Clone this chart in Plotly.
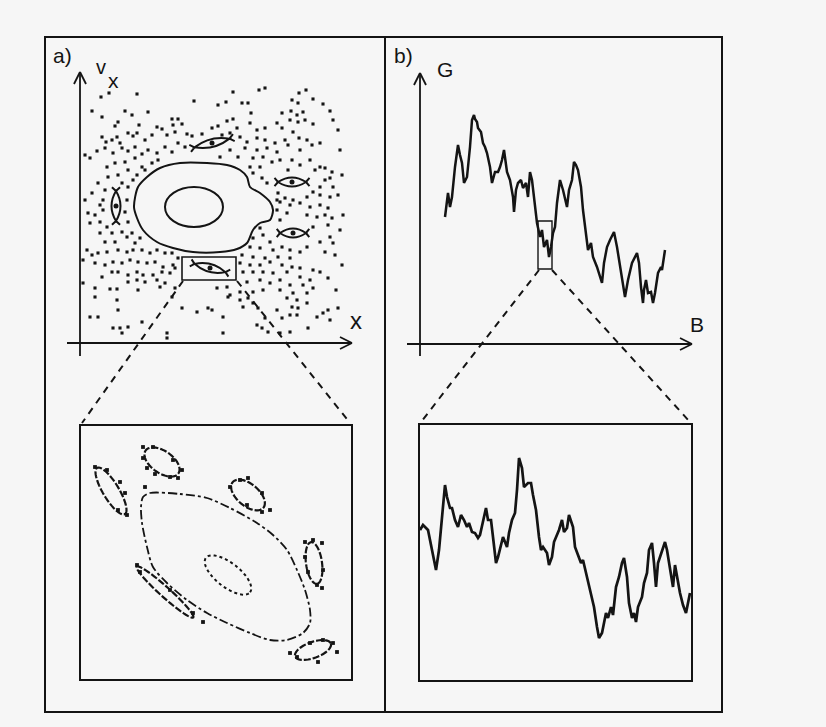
import math
import plotly.graph_objects as go

W, H = 826, 727

# ------------------------------------------------------------------ data
# b) upper graph: conductance G versus magnetic field B (arbitrary units)
g_trace = [(25,128),(26,136),(28,152),(30,138),(32,148),(35,178),(38,200),(40,190),(42,182),(44,162),(47,168),
           (50,198),(52,225),(54,230),(55,226),(57,223),(58,217),(61,213),(63,202),(65,198),(67,192),(70,178),
           (72,162),(75,173),(78,173),(80,178),(82,185),(84,195),(87,173),(90,165),(93,148),(94,133),(96,155),
           (98,162),(101,165),(103,157),(106,162),(108,148),(110,173),(112,165),(115,135),(117,122),(120,108),
           (122,115),(124,98),(127,105),(129,88),(131,98),(133,112),(135,118),(137,142),(140,165),(143,155),
           (147,138),(149,155),(152,165),(154,183),(156,180),(158,175),(161,158),(163,135),(166,108),(168,95),
           (171,102),(173,88),(177,78),(182,62),(184,82),(187,98),(190,105),(194,113),(197,98),(199,85),(202,65),
           (205,48),(208,65),(212,82),(217,92),(219,82),(221,58),(223,42),(224,55),(226,65),(228,52),(231,53),
           (233,42),(235,52),(238,72),(241,78),(242,75),(245,95)]
g_zoom_box = (118, 132, 76, 124)      # B-range and G-range of the magnified window

# b) lower graph: the magnified window
gz_trace = [(1,151),(4,156),(9,151),(13,131),(17,111),(20,131),(23,161),(26,196),(28,184),(31,173),(33,173),
            (36,161),(39,154),(42,166),(45,161),(48,154),(50,158),(53,149),(56,148),(59,143),(61,146),(64,159),
            (67,173),(69,161),(72,161),(74,144),(77,118),(79,124),(82,138),(84,144),(88,134),(90,148),(93,161),
            (96,168),(98,191),(100,223),(103,213),(105,194),(109,198),(112,198),(114,186),(117,171),(120,144),
            (122,131),(124,134),(128,128),(130,116),(133,124),(135,139),(137,144),(140,151),(143,161),(145,149),
            (148,153),(150,166),(154,154),(156,134),(159,126),(162,118),(164,121),(167,109),(169,98),(173,84),
            (175,74),(178,54),(180,43),(183,48),(185,58),(187,68),(189,63),(192,74),(194,66),(197,94),(200,104),
            (203,118),(205,123),(208,104),(210,78),(213,63),(215,68),(217,59),(219,74),(223,84),(225,98),
            (228,108),(230,131),(233,138),(235,118),(237,94),(239,118),(243,131),(246,139),(248,131),(251,111),
            (254,94),(256,116),(258,104),(261,88),(264,76),(267,68),(269,78),(271,88)]

# a) upper graph: Poincare section, chaotic sea points (x, v_x)
sea_points = [
 (21,246),(29,250),(57,249),(114,242),(12,232),(45,232),(52,228),(68,231),(22,226),(38,221),(35,217),(59,218),
 (77,216),(82,214),(92,224),(98,224),(93,218),(102,219),(22,206),(26,201),(32,203),(37,206),(40,200),(48,210),
 (53,207),(57,210),(65,203),(72,208),(87,208),(95,211),(107,209),(112,207),(122,209),(5,188),(10,185),(17,192),
 (25,195),(33,190),(42,195),(48,192),(55,196),(62,189),(68,193),(77,190),(85,196),(92,191),(98,200),(105,196),
 (78,183),(55,185),(45,181),(35,180),(27,176),(62,176),(72,180),(48,173),(38,168),(28,166),(18,160),(57,168),
 (65,173),(25,153),(12,150),(48,156),(53,163),(42,160),(5,143),
 (153,251),(179,253),(185,255),(219,250),(226,253),(138,238),(146,241),(162,240),(168,240),(233,244),(243,239),
 (250,232),(253,223),(212,243),(218,240),(202,230),(211,232),(217,228),(223,231),(210,223),(218,221),(225,223),
 (233,219),(171,230),(153,224),(147,222),(138,217),(132,215),(157,215),(170,220),(177,213),(185,215),(197,220),
 (202,215),(213,211),(219,205),(227,203),(232,198),(240,200),(205,203),(195,200),(185,203),(177,205),(167,201),
 (160,206),(150,210),(142,208),(165,195),(177,193),(187,195),(197,191),(208,198),(220,193),(150,193),(140,186),
 (158,186),(173,185),(183,186),(180,176),(192,181),(200,183),(212,183),(208,173),(220,178),(230,183),(235,173),
 (240,176),(245,175),(252,171),(250,165),(245,163),(240,156),(253,156),(170,176),(173,170),(182,165),(187,160),
 (198,150),(233,151),(240,148),(250,146),(227,146),(213,143),(205,145),(197,143),
 (8,130),(15,128),(20,121),(10,120),(27,116),(32,110),(20,110),(25,101),(35,101),(42,111),(47,106),(52,110),
 (55,100),(60,105),(7,93),(12,88),(18,90),(27,91),(38,93),(47,91),(53,93),(62,93),(70,90),(77,93),(85,90),
 (92,90),(98,85),(3,83),(15,80),(25,78),(33,81),(42,80),(50,83),(58,81),(67,80),(75,81),(83,76),(93,78),(32,71),
 (38,71),(48,68),(57,71),(63,68),(73,68),(82,71),(90,70),(95,75),(22,66),(48,61),(57,63),(65,61),(77,63),(85,60),
 (3,60),(15,55),(30,54),(37,54),(58,53),(80,56),(15,46),(37,43),(95,55),(92,46),(102,35),(38,33),(10,26),(18,26),
 (62,21),(33,15),(40,15),(48,16),(42,10),(87,10),(87,5),(117,31),(128,35),
 (200,141),(210,138),(220,140),(230,136),(240,138),(248,135),(197,133),(207,130),(227,128),(237,126),(245,128),
 (252,125),(200,123),(180,115),(233,116),(248,118),(183,108),(173,105),(190,101),(240,101),(250,106),(253,100),
 (170,96),(180,95),(193,93),(202,96),(210,93),(220,91),(227,96),(245,91),(255,88),(162,88),(173,86),(185,85),
 (198,86),(210,85),(160,80),(170,78),(180,78),(190,81),(202,78),(212,76),(220,75),(233,73),(240,71),(163,71),
 (173,71),(183,71),(193,70),(207,71),(220,66),(230,63),(248,65),(167,61),(180,63),(190,60),(200,63),(210,58),
 (223,58),(233,55),(137,55),(147,56),(150,48),(160,51),(173,51),(183,53),(200,53),(213,50),(227,50),(207,45),
 (217,43),(212,36),(218,35),(227,40),(210,28),(217,28),(237,26),(243,30),(248,33),(258,35),(250,23),(178,35),
 (185,25),(177,18),(182,15),(188,11),(200,10),(210,11),(228,15),(143,26),(143,10),(132,33),(148,46),(160,43),
 (168,45),(163,36),(173,40),(197,33),(202,25),
 (23,143),(47,143),(45,131),(23,133),(48,121),(20,138),(260,113),(262,78),(258,148),(263,128),(256,53),
 (260,193),(262,168),(258,213)]

# a) upper graph: last KAM torus around the main island
kam_outer = [(54,136),(58,156),(67,166),(80,175),(100,180),(127,180),(147,178),(160,173),(167,166),(170,156),
             (180,150),(190,141),(193,133),(190,123),(180,120),(173,113),(167,100),(157,94),(140,91),(113,91),
             (93,95),(77,101),(63,113),(57,125)]
kam_inner = (114, 136, 29, 20)          # centre x, centre v, half-axes
# secondary resonance islands: centre x, centre v, half length, half width, tilt (deg)
isl_x = [132, 212, 213, 36, 130]
isl_v = [200, 161, 110, 137, 75]
isl_len = [18, 14, 13, 15, 16]
isl_wid = [4, 4.5, 4.5, 4.5, 4]
isl_tilt = [14, 0, 0, 90, -15]
zoom_window = (102, 156, 63, 86)

# a) lower graph: magnified window
inset_outer = [(63,183),(70,187),(100,186),(127,182),(150,172),(177,157),(193,145),(207,130),(217,110),(225,90),
               (230,70),(230,57),(223,47),(207,40),(190,40),(170,47),(147,57),(127,67),(107,80),(87,97),(73,113),
               (67,133),(62,157),(61,173)]
inset_inner = (148, 105, 28, 12, -38)
inset_isl_x = [31, 82, 168, 234, 233, 85]
inset_isl_y = [189, 218, 185, 117, 30, 88]
inset_isl_a = [27, 20, 20, 21, 19, 38]
inset_isl_b = [8, 11, 11, 8, 8, 5]
inset_isl_tilt = [-59, -35, -40, -82, 20, -42]
inset_dots = [(15,213),(27,210),(40,198),(45,187),(47,165),(38,170),(63,233),(73,233),(63,222),(67,212),(75,206),
              (90,203),(98,202),(93,220),(102,210),(65,193),(150,193),(160,200),(168,202),(182,187),(190,170),
              (182,168),(167,175),(225,138),(233,140),(242,137),(225,123),(243,110),(228,108),(237,95),(242,92),
              (210,27),(217,23),(230,37),(243,40),(253,37),(257,28),(238,18),(57,115),(60,108),(90,90),(113,67),
              (123,58)]

# ------------------------------------------------------------------ helpers
INK = "#141414"
FONT = "Liberation Sans, Arial, sans-serif"


def P(px, py):
    return px / W, 1 - py / H


def dom_x(p0, p1):
    return [p0 / W, p1 / W]


def dom_y(q0, q1):
    return [1 - q1 / H, 1 - q0 / H]


def rot(cx, cy, u, w, a):
    ca, sa = math.cos(math.radians(a)), math.sin(math.radians(a))
    return cx + u * ca - w * sa, cy + u * sa + w * ca


def lens_path(cx, cy, L, Wd, a):
    def p(u, w):
        x, y = rot(cx, cy, u, w, a)
        return f"{x:.2f},{y:.2f}"
    s = (f"M{p(-L,0)} Q{p(0,2*Wd)} {p(L,0)} Q{p(0,-2*Wd)} {p(-L,0)} Z "
         f"M{p(L,0)} L{p(1.25*L,-0.9*Wd)} M{p(L,0)} L{p(1.25*L,0.9*Wd)} "
         f"M{p(-L,0)} L{p(-1.25*L,-0.9*Wd)} M{p(-L,0)} L{p(-1.25*L,0.9*Wd)}")
    return s


def ellipse_path(cx, cy, a_, b_, ang, n=60):
    pts = []
    for k in range(n + 1):
        t = 2 * math.pi * k / n
        pts.append(rot(cx, cy, a_ * math.cos(t), b_ * math.sin(t), ang))
    return "M" + " L".join(f"{x:.2f},{y:.2f}" for x, y in pts) + " Z"


fig = go.Figure()
shapes = []
annotations = []

# ---- a) upper: phase space
sx, sv = zip(*sea_points)
fig.add_trace(go.Scatter(x=sx, y=sv, mode="markers", xaxis="x", yaxis="y",
                         marker=dict(symbol="square", size=3.1, color=INK, line=dict(width=0)),
                         hoverinfo="skip", showlegend=False))
ko = kam_outer + kam_outer[:1]
fig.add_trace(go.Scatter(x=[p[0] for p in ko], y=[p[1] for p in ko], mode="lines", xaxis="x", yaxis="y",
                         line=dict(color=INK, width=2, shape="spline", smoothing=0.8),
                         hoverinfo="skip", showlegend=False))
cx, cv, rx, rv = kam_inner
shapes.append(dict(type="circle", xref="x", yref="y", x0=cx - rx, x1=cx + rx, y0=cv - rv, y1=cv + rv,
                   line=dict(color=INK, width=2)))
for i in range(len(isl_x)):
    shapes.append(dict(type="path", xref="x", yref="y",
                       path=lens_path(isl_x[i], isl_v[i], isl_len[i], isl_wid[i], isl_tilt[i]),
                       line=dict(color=INK, width=2)))
fig.add_trace(go.Scatter(x=isl_x, y=isl_v, mode="markers", xaxis="x", yaxis="y",
                         marker=dict(symbol="circle", size=5, color=INK),
                         hoverinfo="skip", showlegend=False))
x0, x1, y0, y1 = zoom_window
shapes.append(dict(type="rect", xref="x", yref="y", x0=x0, x1=x1, y0=y0, y1=y1,
                   line=dict(color=INK, width=1.6)))

# ---- b) upper: G(B)
gb, gg = zip(*g_trace)
fig.add_trace(go.Scatter(x=gb, y=gg, mode="lines", xaxis="x2", yaxis="y2",
                         line=dict(color=INK, width=2.5), hoverinfo="skip", showlegend=False))
b0, b1, G0, G1 = g_zoom_box
shapes.append(dict(type="rect", xref="x2", yref="y2", x0=b0, x1=b1, y0=G0, y1=G1,
                   line=dict(color=INK, width=1.4)))

# ---- a) lower: magnified phase space
io = inset_outer + inset_outer[:1]
fig.add_trace(go.Scatter(x=[p[0] for p in io], y=[p[1] for p in io], mode="lines", xaxis="x3", yaxis="y3",
                         line=dict(color=INK, width=1.8, dash="dashdot", shape="spline", smoothing=0.8),
                         hoverinfo="skip", showlegend=False))
shapes.append(dict(type="path", xref="x3", yref="y3", path=ellipse_path(*inset_inner),
                   line=dict(color=INK, width=2, dash="dot")))
for i in range(len(inset_isl_x)):
    shapes.append(dict(type="path", xref="x3", yref="y3",
                       path=ellipse_path(inset_isl_x[i], inset_isl_y[i], inset_isl_a[i], inset_isl_b[i],
                                         inset_isl_tilt[i]),
                       line=dict(color=INK, width=2.2, dash="7px,2px")))
ix, iy = zip(*inset_dots)
fig.add_trace(go.Scatter(x=ix, y=iy, mode="markers", xaxis="x3", yaxis="y3",
                         marker=dict(symbol="square", size=3.8, color=INK),
                         hoverinfo="skip", showlegend=False))

# ---- b) lower: magnified G(B)
zb, zg = zip(*gz_trace)
fig.add_trace(go.Scatter(x=zb, y=zg, mode="lines", xaxis="x4", yaxis="y4",
                         line=dict(color=INK, width=2.7), hoverinfo="skip", showlegend=False))


# ---- frames, axes, arrows, dashed connectors (page coordinates)
def seg(p, q, width=2, dash=None):
    x0_, y0_ = P(*p)
    x1_, y1_ = P(*q)
    ln = dict(color=INK, width=width)
    if dash:
        ln["dash"] = dash
    shapes.append(dict(type="line", xref="paper", yref="paper", x0=x0_, y0=y0_, x1=x1_, y1=y1_, line=ln))


def rect(l, t, r, b, width=2):
    x0_, y1_ = P(l, t)
    x1_, y0_ = P(r, b)
    shapes.append(dict(type="rect", xref="paper", yref="paper", x0=x0_, y0=y0_, x1=x1_, y1=y1_,
                       line=dict(color=INK, width=width)))


rect(45, 37, 722, 712, 2)
seg((385, 37), (385, 712), 2)
rect(80, 425, 352, 680, 2)
rect(419, 424, 692, 681, 2)

# a) axes
seg((80, 356), (80, 72), 1.8)
seg((74, 84), (80, 72), 1.8)
seg((86, 84), (80, 72), 1.8)
seg((67, 343), (352, 343), 1.8)
seg((340, 337), (352, 343), 1.8)
seg((340, 349), (352, 343), 1.8)
# b) axes
seg((420, 356), (420, 73), 1.8)
seg((414, 85), (420, 73), 1.8)
seg((426, 85), (420, 73), 1.8)
seg((407, 344), (692, 344), 1.8)
seg((680, 338), (692, 344), 1.8)
seg((680, 350), (692, 344), 1.8)

# dashed connectors
seg((183, 281), (82, 423), 2, "7px,6px")
seg((237, 281), (350, 423), 2, "7px,6px")
seg((539, 270), (421, 422), 2, "7px,6px")
seg((552, 270), (690, 422), 2, "7px,6px")


def label(text, px, py, size):
    x, y = P(px, py)
    annotations.append(dict(text=text, x=x, y=y, xref="paper", yref="paper", showarrow=False,
                            xanchor="center", yanchor="middle",
                            font=dict(family=FONT, size=size, color=INK)))


label("a)", 62, 55, 21)
label("b)", 403, 55, 21)
label("v", 101, 67, 20)
label("x", 113, 80, 21)
label("x", 356, 321, 24)
label("G", 445, 70, 21)
label("B", 697, 324, 21)

ax_common = dict(visible=False, showgrid=False, zeroline=False, fixedrange=True)
fig.update_layout(
    width=W, height=H, margin=dict(l=0, r=0, t=0, b=0),
    paper_bgcolor="#f6f6f6", plot_bgcolor="rgba(0,0,0,0)",
    showlegend=False, shapes=shapes, annotations=annotations,
    xaxis=dict(domain=dom_x(80, 352), range=[0, 272], anchor="y", **ax_common),
    yaxis=dict(domain=dom_y(72, 343), range=[0, 271], anchor="x", **ax_common),
    xaxis2=dict(domain=dom_x(420, 700), range=[0, 280], anchor="y2", **ax_common),
    yaxis2=dict(domain=dom_y(73, 345), range=[0, 272], anchor="x2", **ax_common),
    xaxis3=dict(domain=dom_x(80, 352), range=[0, 272], anchor="y3", **ax_common),
    yaxis3=dict(domain=dom_y(425, 680), range=[0, 255], anchor="x3", **ax_common),
    xaxis4=dict(domain=dom_x(419, 692), range=[0, 273], anchor="y4", **ax_common),
    yaxis4=dict(domain=dom_y(424, 681), range=[0, 257], anchor="x4", **ax_common),
)

fig.write_html("out.html")
